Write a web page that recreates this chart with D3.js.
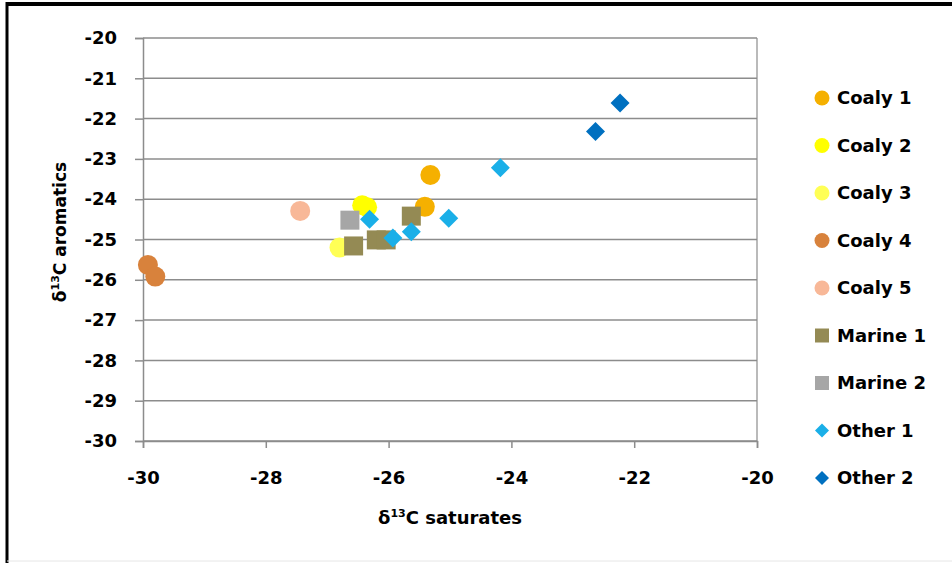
<!DOCTYPE html>
<html>
<head>
<meta charset="utf-8">
<script src="https://cdn.jsdelivr.net/npm/d3@7"></script>
<style>
    body { margin: 0; background: #fff; }
    svg text { font-family: "DejaVu Sans", sans-serif; font-weight: bold; fill: #000; }
</style>
</head>
<body>
<svg id="chart" width="952" height="563"></svg>
<script>
// Series names, colours and marker shapes.
const seriesNames = ["Coaly 1", "Coaly 2", "Coaly 3", "Coaly 4", "Coaly 5", "Marine 1", "Marine 2", "Other 1", "Other 2"];
const seriesColors = ["#f5b000", "#ffff00", "#ffff55", "#d8823c", "#f8b898", "#948a54", "#a6a6a6", "#1aafe8", "#0070c0"];
const seriesShapes = ["circle", "circle", "circle", "circle", "circle", "square", "square", "diamond", "diamond"];

// Values: [saturates, aromatics].
const coaly1 = [[-25.32, -23.40], [-25.41, -24.19]];
const coaly2 = [[-26.43, -24.15], [-26.35, -24.20]];
const coaly3 = [[-26.80, -25.20]];
const coaly4 = [[-29.92, -25.63], [-29.80, -25.92]];
const coaly5 = [[-27.44, -24.29]];
const marine1 = [[-25.63, -24.42], [-26.57, -25.16], [-26.20, -25.01], [-26.04, -25.01]];
const marine2 = [[-26.63, -24.52]];
const other1 = [[-26.31, -24.50], [-25.93, -24.96], [-25.63, -24.81], [-25.02, -24.47], [-24.18, -23.22]];
const other2 = [[-22.23, -21.61], [-22.63, -22.32]];
const seriesValues = [coaly1, coaly2, coaly3, coaly4, coaly5, marine1, marine2, other1, other2];

const xTicks = [-30, -28, -26, -24, -22, -20];
const yTicks = [-20, -21, -22, -23, -24, -25, -26, -27, -28, -29, -30];

const svg = d3.select("#chart");

// Outer frame.
svg.append("line").attr("x1", 6).attr("y1", 4).attr("x2", 952).attr("y2", 4)
    .attr("stroke", "#000").attr("stroke-width", 4);
svg.append("line").attr("x1", 7).attr("y1", 2).attr("x2", 7).attr("y2", 563)
    .attr("stroke", "#000").attr("stroke-width", 3);
svg.append("line").attr("x1", 7).attr("y1", 561).attr("x2", 952).attr("y2", 561)
    .attr("stroke", "#e6e6e6").attr("stroke-width", 1);

const x = d3.scaleLinear().domain([-30, -20]).range([143, 757]);
const y = d3.scaleLinear().domain([-30, -20]).range([441, 38]);

// Horizontal grid lines.
svg.append("g")
    .selectAll("line")
    .data(yTicks)
    .join("line")
    .attr("x1", x(-30)).attr("x2", x(-20))
    .attr("y1", (d) => y(d)).attr("y2", (d) => y(d))
    .attr("stroke", "#8c8c8c").attr("stroke-width", 1.5);

// Right border of plot area.
svg.append("line")
    .attr("x1", x(-20)).attr("x2", x(-20)).attr("y1", y(-20)).attr("y2", y(-30))
    .attr("stroke", "#8c8c8c").attr("stroke-width", 1.2);

// Y axis.
const yAxis = svg.append("g")
    .attr("transform", `translate(${x(-30)},0)`)
    .call(d3.axisLeft(y).tickValues(yTicks).tickSize(8).tickPadding(18).tickFormat((d) => d));
yAxis.select(".domain").attr("stroke", "#8c8c8c").attr("stroke-width", 1.5);
yAxis.selectAll(".tick line").attr("stroke", "#8c8c8c").attr("stroke-width", 1.5);
yAxis.selectAll("text").attr("font-size", 18).attr("fill", "#000");

// X axis.
const xAxis = svg.append("g")
    .attr("transform", `translate(0,${y(-30)})`)
    .call(d3.axisBottom(x).tickValues(xTicks).tickSize(7).tickPadding(23).tickFormat((d) => d));
xAxis.select(".domain").attr("stroke", "#8c8c8c").attr("stroke-width", 1.5);
xAxis.selectAll(".tick line").attr("stroke", "#8c8c8c").attr("stroke-width", 1.5);
xAxis.selectAll("text").attr("font-size", 18).attr("fill", "#000");

// Axis titles.
const xTitle = svg.append("text")
    .attr("x", 450).attr("y", 524).attr("text-anchor", "middle").attr("font-size", 18);
xTitle.append("tspan").text("δ");
xTitle.append("tspan").attr("font-size", 11).attr("dy", -7).text("13");
xTitle.append("tspan").attr("dy", 7).text("C saturates");

const yTitle = svg.append("text")
    .attr("transform", "translate(66,232) rotate(-90)")
    .attr("text-anchor", "middle").attr("font-size", 17);
yTitle.append("tspan").text("δ");
yTitle.append("tspan").attr("font-size", 11).attr("dy", -7).text("13");
yTitle.append("tspan").attr("dy", 7).text("C aromatics");

// Marker path for a shape at a given half-size.
function markerPath(shape, r) {
    if (shape === "square") return `M${-r},${-r}H${r}V${r}H${-r}Z`;
    if (shape === "diamond") return `M0,${-r}L${r},0L0,${r}L${-r},0Z`;
    return `M${-r},0A${r},${r} 0 1,0 ${r},0A${r},${r} 0 1,0 ${-r},0Z`;
}
const plotSize = { circle: 10, square: 9.5, diamond: 9.5 };
const legendSize = { circle: 7.5, square: 7, diamond: 7 };

// Points.
seriesNames.forEach((name, i) => {
    svg.append("g")
        .selectAll("path")
        .data(seriesValues[i])
        .join("path")
        .attr("transform", (d) => `translate(${x(d[0])},${y(d[1])})`)
        .attr("d", markerPath(seriesShapes[i], plotSize[seriesShapes[i]]))
        .attr("fill", seriesColors[i]);
});

// Legend.
const legend = svg.append("g")
    .selectAll("g")
    .data(seriesNames)
    .join("g")
    .attr("transform", (d, i) => `translate(822,${98 + i * 47.5})`);
legend.append("path")
    .attr("d", (d, i) => markerPath(seriesShapes[i], legendSize[seriesShapes[i]]))
    .attr("fill", (d, i) => seriesColors[i]);
legend.append("text")
    .attr("x", 15).attr("dy", "0.35em").attr("font-size", 18)
    .text((d) => d);
</script>
</body>
</html>
